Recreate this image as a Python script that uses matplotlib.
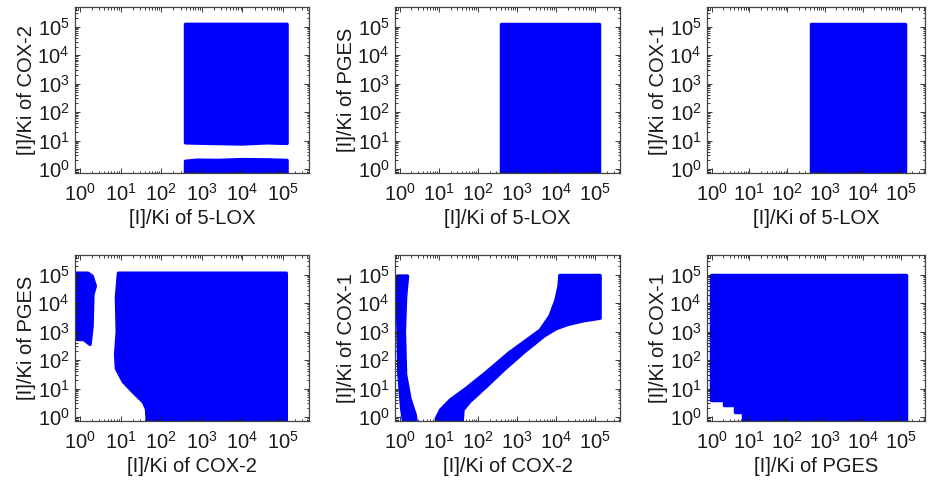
import numpy as np
import matplotlib
matplotlib.use("Agg")
import matplotlib.pyplot as plt
from matplotlib.ticker import LogLocator, NullFormatter

plt.rcParams['font.family'] = ['Liberation Sans', 'DejaVu Sans']
plt.rcParams['mathtext.fontset'] = 'custom'
plt.rcParams['mathtext.rm'] = 'Liberation Sans'
plt.rcParams['mathtext.it'] = 'Liberation Sans:italic'

# ---- data: boundary vertices of each blue region, as log10 exponents ----
# Panel 1: 5-LOX (x) vs COX-2 (y)
p1a_x = [2.60, 3.2, 4.0, 4.6, 5.10, 5.10, 2.60]
p1a_y = [0.92, 0.90, 0.88, 0.92, 0.90, 5.08, 5.08]
p1b_x = [2.60, 5.10, 5.10, 4.6, 4.0, 3.4, 2.9, 2.60]
p1b_y = [-0.6, -0.6, 0.30, 0.32, 0.33, 0.30, 0.31, 0.27]
# Panel 2: 5-LOX (x) vs PGES (y)
p2_x = [2.60, 5.10, 5.10, 2.60]
p2_y = [-0.6, -0.6, 5.08, 5.08]
# Panel 3: 5-LOX (x) vs COX-1 (y)
p3_x = [2.62, 5.12, 5.12, 2.62]
p3_y = [-0.6, -0.6, 5.08, 5.08]
# Panel 4: COX-2 (x) vs PGES (y)
p4a_x = [-0.5, 0.20, 0.30, 0.38, 0.32, 0.30, 0.25, 0.10, -0.5]
p4a_y = [5.05, 5.05, 4.95, 4.60, 4.30, 3.20, 2.55, 2.72, 2.75]
p4b_x = [0.95, 5.08, 5.08, 1.68, 1.64, 1.56, 1.31, 1.07, 0.90, 0.88, 0.92, 0.90, 0.95]
p4b_y = [5.05, 5.05, -0.6, -0.6, 0.29, 0.53, 0.88, 1.24, 1.70, 2.20, 3.00, 4.20, 5.05]
# Panel 5: COX-2 (x) vs COX-1 (y)
p5a_x = [-0.05, 0.20, 0.15, 0.12, 0.15, 0.26, 0.40, 0.45, 0.15, 0.05, -0.02, -0.05]
p5a_y = [4.95, 4.95, 4.20, 3.00, 1.50, 0.65, 0.06, -0.6, -0.6, 0.30, 1.50, 3.50]
p5b_x = [0.94, 0.94, 1.05, 1.30, 1.70, 2.20, 2.80, 3.30, 3.60, 3.85, 4.00, 4.08, 4.10,
         5.13, 5.13, 4.70, 4.30, 4.00, 3.70, 3.20, 2.70, 2.20, 1.80, 1.62, 1.58]
p5b_y = [-0.6, -0.05, 0.25, 0.60, 1.00, 1.55, 2.25, 2.75, 3.05, 3.55, 4.10, 4.60, 4.97,
         4.97, 3.47, 3.38, 3.25, 3.10, 2.85, 2.30, 1.70, 1.05, 0.55, 0.25, -0.6]
# Panel 6: PGES (x) vs COX-1 (y)
p6_x = [-0.02, 5.13, 5.13, 0.82, 0.82, 0.61, 0.61, 0.32, 0.32, -0.02]
p6_y = [5.00, 5.00, -0.6, -0.6, 0.18, 0.18, 0.41, 0.41, 0.59, 0.59]

xlabels = ['[I]/Ki of 5-LOX', '[I]/Ki of 5-LOX', '[I]/Ki of 5-LOX',
           '[I]/Ki of COX-2', '[I]/Ki of COX-2', '[I]/Ki of PGES']
ylabels = ['[I]/Ki of COX-2', '[I]/Ki of PGES', '[I]/Ki of COX-1',
           '[I]/Ki of PGES', '[I]/Ki of COX-1', '[I]/Ki of COX-1']
regions = [
    [(p1a_x, p1a_y), (p1b_x, p1b_y)],
    [(p2_x, p2_y)],
    [(p3_x, p3_y)],
    [(p4a_x, p4a_y), (p4b_x, p4b_y)],
    [(p5a_x, p5a_y), (p5b_x, p5b_y)],
    [(p6_x, p6_y)],
]

W, H = 929, 484
fig = plt.figure(figsize=(W / 100, H / 100), dpi=100)
# axes boxes in pixels: (left, right) and (top, bottom)
cols = [(75, 309), (395, 620), (707, 925)]
rows = [(7, 173), (255, 421)]
blue = '#0000ff'
ink = '#1a1a1a'

for i in range(6):
    r, c = divmod(i, 3)
    l, rt = cols[c]
    t, b = rows[r]
    ax = fig.add_axes([l / W, 1 - b / H, (rt - l) / W, (b - t) / H])
    ax.set_xscale('log')
    ax.set_yscale('log')
    for xs, ys in regions[i]:
        ax.fill(10 ** np.array(xs), 10 ** np.array(ys), facecolor=blue,
                edgecolor=blue, linewidth=2.5, joinstyle='round')
    ax.set_xlim(10 ** -0.12, 10 ** 5.64)
    ax.set_ylim(10 ** -0.14, 10 ** 5.69)
    ax.xaxis.set_major_locator(LogLocator(base=10, numticks=10))
    ax.yaxis.set_major_locator(LogLocator(base=10, numticks=10))
    ax.xaxis.set_minor_locator(LogLocator(base=10, subs=np.arange(2, 10), numticks=20))
    ax.yaxis.set_minor_locator(LogLocator(base=10, subs=np.arange(2, 10), numticks=20))
    ax.xaxis.set_minor_formatter(NullFormatter())
    ax.yaxis.set_minor_formatter(NullFormatter())
    ax.tick_params(which='both', direction='in', top=True, right=True,
                   colors=ink, labelsize=14.5, width=0.6)
    ax.tick_params(axis='x', which='major', length=3.5, pad=7)
    ax.tick_params(axis='y', which='major', length=3.5, pad=4)
    ax.tick_params(which='minor', length=1.8)
    for s in ax.spines.values():
        s.set_color('#444444')
        s.set_linewidth(0.9)
    ax.set_xlabel(xlabels[i], fontsize=14.5, color=ink, labelpad=3)
    ax.set_ylabel(ylabels[i], fontsize=14.5, color=ink, labelpad=1)

fig.savefig('out.png', dpi=100)
